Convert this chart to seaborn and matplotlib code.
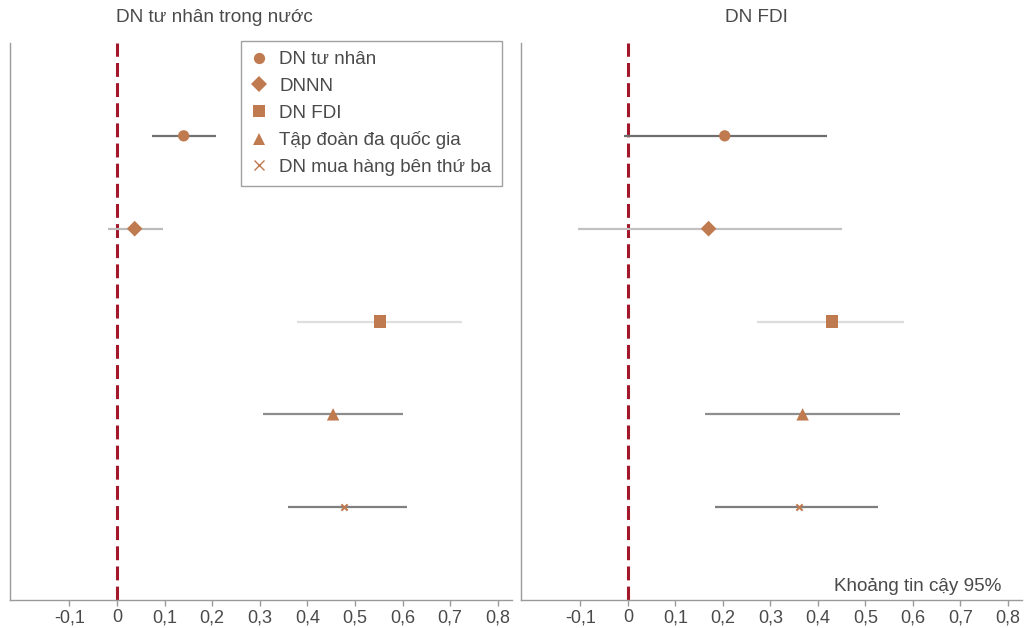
import numpy as np
import pandas as pd
import matplotlib
matplotlib.use("Agg")
import matplotlib.pyplot as plt
from matplotlib.lines import Line2D
import seaborn as sns

# ---------------- data ----------------
categories = ["DN tư nhân", "DNNN", "DN FDI", "Tập đoàn đa quốc gia", "DN mua hàng bên thứ ba"]
panel_titles = ["DN tư nhân trong nước", "DN FDI"]

# left panel: DN tư nhân trong nước
left_est = [0.140, 0.037, 0.553, 0.454, 0.477]
left_lo = [0.073, -0.020, 0.378, 0.307, 0.359]
left_hi = [0.208, 0.096, 0.725, 0.601, 0.609]

# right panel: DN FDI
right_est = [0.204, 0.170, 0.429, 0.368, 0.361]
right_lo = [-0.008, -0.105, 0.273, 0.162, 0.183]
right_hi = [0.420, 0.450, 0.582, 0.574, 0.527]

tick_values = [-0.1, 0, 0.1, 0.2, 0.3, 0.4, 0.5, 0.6, 0.7, 0.8]
tick_labels = ["-0,1", "0", "0,1", "0,2", "0,3", "0,4", "0,5", "0,6", "0,7", "0,8"]
note_text = "Khoảng tin cậy 95%"

# ---------------- style ----------------
sns.set_theme(style="white")
plt.rcParams["font.family"] = ["Liberation Sans", "DejaVu Sans"]
plt.rcParams["lines.scale_dashes"] = False

MARKER_COLOR = "#C07A50"
TEXT = "#4a4a4a"
SPINE = "#9a9a9a"
RED = "#A3172A"
markers = {categories[0]: "o", categories[1]: "D", categories[2]: "s",
           categories[3]: "^", categories[4]: "x"}
sizes = {categories[0]: 66, categories[1]: 64, categories[2]: 75,
         categories[3]: 80}
ci_colors_left = ["#727272", "#bcbcbc", "#dedede", "#8c8c8c", "#808080"]
ci_colors_right = ["#6e6e6e", "#c2c2c2", "#dcdcdc", "#8e8e8e", "#7e7e7e"]

fig = plt.figure(figsize=(10.35, 6.28), dpi=100)
ax_l = fig.add_axes([10 / 1035, 1 - 600 / 628, 502 / 1035, 557 / 628])
ax_r = fig.add_axes([521 / 1035, 1 - 600 / 628, 501 / 1035, 557 / 628])

panels = [
    (ax_l, left_est, left_lo, left_hi, ci_colors_left, panel_titles[0], 0.408),
    (ax_r, right_est, right_lo, right_hi, ci_colors_right, panel_titles[1], 0.469),
]

for ax, est, lo, hi, cicol, title, tx in panels:
    df = pd.DataFrame({"cat": categories, "est": est, "lo": lo, "hi": hi,
                       "row": np.arange(len(categories))})
    # zero reference line
    ax.axvline(0, color=RED, lw=2.2, dashes=(10, 4.5), zorder=1)
    # confidence intervals
    for i, r in df.iterrows():
        ax.hlines(r["row"], r["lo"], r["hi"], color=cicol[i], lw=1.6, zorder=2)
    filled = df.iloc[:4]
    sns.scatterplot(data=filled, x="est", y="row", style="cat",
                    markers={c: markers[c] for c in categories[:4]},
                    size="cat", sizes=sizes, color=MARKER_COLOR,
                    edgecolor=MARKER_COLOR, linewidth=0, legend=False,
                    ax=ax, zorder=3)
    line_art = df.iloc[4:]
    sns.scatterplot(data=line_art, x="est", y="row", marker="x", s=20,
                    color=MARKER_COLOR, linewidth=1.5, legend=False,
                    ax=ax, zorder=4)
    ax.set_xlim(-0.225, 0.83)
    ax.set_ylim(5, -1)
    ax.set_xlabel("")
    ax.set_ylabel("")
    ax.set_yticks([])
    ax.set_xticks(tick_values)
    ax.set_xticklabels(tick_labels)
    ax.tick_params(axis="x", direction="out", length=4.5, width=1, color=SPINE,
                   labelsize=13, labelcolor=TEXT, pad=2.0, bottom=True)
    for s in ["top", "right"]:
        ax.spines[s].set_visible(False)
    for s in ["left", "bottom"]:
        ax.spines[s].set_visible(True)
        ax.spines[s].set_color(SPINE)
        ax.spines[s].set_linewidth(1)
    ax.text(tx, 1 + 26 / 557, title, transform=ax.transAxes,
            ha="center", va="center", fontsize=13.7, color=TEXT)

ax_r.text(0.958, 0.024, note_text, transform=ax_r.transAxes, ha="right",
          va="center", fontsize=13.6, color=TEXT)

handles = []
leg_sizes = [8.1, 8.0, 8.6, 9.0, 7.0]
for c, ms in zip(categories, leg_sizes):
    m = markers[c]
    if m == "x":
        h = Line2D([], [], ls="", marker="x", ms=ms, mec=MARKER_COLOR, mew=1.0)
    else:
        h = Line2D([], [], ls="", marker=m, ms=ms, mfc=MARKER_COLOR,
                   mec=MARKER_COLOR, mew=0)
    handles.append(h)
leg = ax_l.legend(handles, categories, loc="upper right",
                  bbox_to_anchor=(0.98, 1.004), borderaxespad=0,
                  fontsize=13.6, labelcolor=TEXT, frameon=True,
                  fancybox=False, edgecolor="#8a8a8a", labelspacing=0.5,
                  handletextpad=0.7, handlelength=0.8, borderpad=0.55)
leg.get_frame().set_linewidth(1)

fig.savefig("out.png", dpi=100)
